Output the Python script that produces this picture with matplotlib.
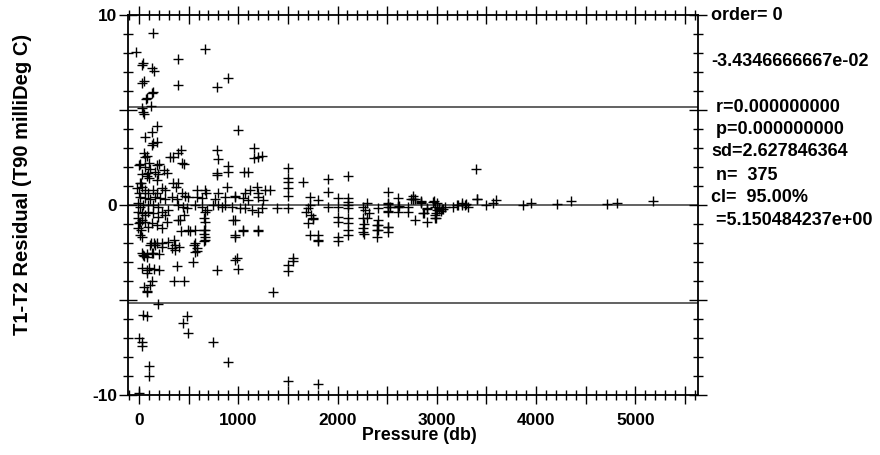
import matplotlib
matplotlib.use("Agg")
import matplotlib.pyplot as plt
from matplotlib.ticker import MultipleLocator, FuncFormatter

plt.rcParams['font.family'] = ['Liberation Sans', 'DejaVu Sans']
plt.rcParams['font.weight'] = 'bold'

# ---- data: pressure (db) and residual (T90 milliDeg C) ----
pressure_high = [-30, 27, 43, 128, 151, 144, 396, 665, 27, 50,
                 396, 789, 900, 128, 144, 70, 84, 117, 27, 43,
                 53, 1000, 128, 178, 60, 144, 178, 128]
residual_high = [8.07, 7.37, 7.46, 7.19, 7.05, 9.03, 7.68, 8.19, 6.40, 6.53,
                 6.32, 6.23, 6.67, 5.88, 5.96, 5.56, 5.65, 5.21, 5.09, 4.91,
                 4.77, 3.95, 3.86, 4.16, 3.56, 3.25, 3.33, 3.16]

pressure_mid = [50, 60, 77, 316, 389, 423, 438, 342, 782, 795,
                789, 789, 900, 900, 1154, 1204, 1154, 1235, 1054, 1100,
                1503, 1503, 1906, 2107, 3393, 0, 60, 178, 248, 190,
                27, 90, 10, 100, 200, 280, 80, 110, 160, 453]
residual_mid = [2.75, 2.54, 2.58, 2.54, 2.72, 2.89, 2.19, 2.54, 2.89, 2.40,
                1.67, 1.58, 2.05, 1.75, 2.98, 2.54, 2.46, 2.60, 1.75, 1.72,
                1.93, 1.40, 1.35, 1.53, 1.89, 2.10, 2.00, 2.10, 1.84, 1.65,
                1.65, 1.70, 2.15, 2.20, 2.15, 1.70, 1.55, 1.90, 1.75, 2.16]

pressure_low = [10, 27, -20, -3, 60, 94, 144, 178, 228, 262,
                344, 395, 378, 665, 680, 795, 883, 966, 1067, 1117,
                1185, 1200, 1268, 1318, 430, 463, 581, 1503, 1503, 1654,
                1906, 2510, 2762, 100, 17, 184, 1720, 2107, 2762, 3400]
residual_low = [1.14, 0.96, 0.88, 0.62, 0.79, 0.62, 0.77, 0.62, 0.88, 0.79,
                1.14, 1.14, 0.96, 0.79, 0.62, 0.65, 0.96, 0.47, 0.65, 0.79,
                0.96, 0.62, 0.79, 0.79, 0.62, 0.47, 0.79, 1.23, 0.88, 1.23,
                0.70, 0.70, 0.47, 1.40, 1.14, 1.32, 0.44, 0.35, 0.30, 0.30]

pressure_zero = [10, 60, 110, 160, 210, 260, 330, 380, 490, 580,
                 640, 765, 865, 965, 1045, 1095, 1200, 1250, 1500,
                 -7, 10, 43, 94, 144, 194, 295, 396, 446, 480,
                 564, 631, 681, 748, 799, 832, 866, 933, 1017, 1067,
                 1134, 1200, 1235, 1386, 1503,
                 1720, 1700, 1680, 1800, 1906, 2000, 2000, 2107, 2107, 2107,
                 2260, 2280, 2300, 2320, 2410, 2510, 2530, 2510, 2608, 2709,
                 2709, 2740, 2780, 2840, 2840, 2900, 2960, 2980, 3000, 3020,
                 3040, 3050, 3160, 3210, 3250, 3280,
                 2510, 2510, 2510, 2621, 2610, 2610, 2610, 2762, 2840, 2860,
                 2900, 2970, 3000, 2990, 3020, 3060, 3080, 3200, 3250, 3290,
                 3310, 3500, 3570, 3600, 3870, 3944, 4206, 4347, 4710, 4810,
                 5173, 3400]
residual_zero = [0.42, 0.35, 0.30, 0.42, 0.35, 0.30, 0.42, 0.30, 0.42, 0.42,
                 0.35, 0.30, 0.42, 0.42, 0.35, 0.26, 0.42, 0.26, 0.47,
                 0.09, -0.09, 0.00, 0.00, 0.00, -0.09, -0.26, 0.00, -0.09, -0.18,
                 0.00, -0.09, -0.26, 0.00, 0.00, -0.09, 0.00, -0.09, -0.18, -0.18,
                 -0.26, -0.35, -0.18, -0.18, -0.18,
                 0.00, -0.18, -0.35, 0.26, -0.09, 0.37, -0.09, 0.18, 0.00, -0.18,
                 -0.10, -0.26, 0.13, -0.44, -0.18, 0.09, -0.09, -0.35, -0.09, -0.09,
                 -0.35, 0.30, 0.30, 0.18, 0.09, -0.18, 0.18, -0.09, -0.26, -0.20,
                 -0.30, -0.20, -0.09, 0.00, 0.09, 0.00,
                 0.07, -0.10, -0.33, -0.05, -0.10, -0.35, 0.35, 0.30, 0.20, -0.40,
                 -0.20, 0.20, 0.10, -0.40, -0.15, -0.20, -0.10, 0.00, 0.02, 0.07,
                 -0.10, 0.00, 0.10, 0.25, 0.02, 0.10, 0.05, 0.22, 0.05, 0.10,
                 0.20, 0.30]

pressure_neg = [-7, 27, 60, 94, 144, 194, 228, 262, -7, 27,
                10, 60, 94, 128, 178, 228, 278, -7, 10, 413,
                665, 950, 497, 564, 665, 665, 665, 966, 1050, 1200,
                110, 160, 228, 295, 330, 360, 550, 580, 565, 43,
                77, 144, 983, 1550,
                1730, 1750, 1700, 1800, 2000, 2000, 2107, 2107, 2260, 2260,
                2260, 2410, 2410, 2410, 2510, 2870, 2900, 2980, 2980, 2510,
                2990, 2780]
residual_neg = [-0.35, -0.44, -0.53, -0.35, -0.44, -0.61, -0.35, -0.53, -0.70, -0.79,
                -0.88, -0.88, -1.14, -0.96, -1.05, -1.23, -0.88, -1.23, -1.58, -0.79,
                -0.88, -0.79, -1.32, -1.32, -1.32, -1.67, -1.84, -1.67, -1.32, -1.32,
                -2.10, -2.10, -2.19, -1.93, -2.28, -2.10, -2.10, -2.28, -2.46, -2.63,
                -2.72, -2.54, -2.80, -2.80,
                -0.53, -0.70, -0.96, -1.58, -0.62, -1.67, -0.70, -1.32, -0.70, -1.23,
                -1.40, -0.79, -1.05, -1.32, -1.14, -0.44, -0.88, -0.53, -0.70, -1.18,
                -0.70, -0.80]

pressure_far = [0, 20, 35, 117, 150, 180, 230, 349, 365, 400,
                27, 50, 77, 128, 200, 27, 77, 100, 150, 200,
                80, 130, 115, 50, 77, 77, 195, 386, 350, 450,
                547, 428, 517, 389, 449, 564, 584, 658, 658, 658,
                658, 670, 789, 966, 966, 966, 1000, 1050, 1200, 1346,
                1503, 1503, 1547, 1720, 1800, 1800, 1750, 2000, 2000, 2110,
                2110, 2262, 2262, 2300, 2400, 2400, 2400, 2510, 43, 77,
                486, 446, 496, 0, 27, 27, 749, 900, 104, 104,
                1503, 1805, 3]
residual_far = [-0.95, -1.30, -1.70, -2.00, -2.00, -2.00, -2.00, -1.84, -2.37, -2.20,
                -2.50, -2.70, -2.60, -2.50, -2.60, -3.30, -3.40, -3.30, -3.35, -3.40,
                -3.60, -4.00, -4.20, -4.30, -4.50, -4.60, -5.23, -3.21, -4.00, -4.00,
                -3.00, -1.35, -1.35, -0.80, -0.50, -2.00, -2.40, -1.30, -1.50, -1.90,
                -0.70, -0.35, -3.42, -2.90, -1.60, -0.80, -3.39, -1.37, -1.37, -4.60,
                -3.16, -3.47, -2.93, -1.60, -1.85, -1.90, -0.75, -0.87, -1.90, -1.60,
                -0.96, -1.00, -1.55, -0.70, -1.05, -1.30, -1.66, -1.40, -5.80, -5.84,
                -5.84, -6.20, -6.75, -7.00, -7.20, -7.42, -7.19, -8.28, -8.46, -9.00,
                -9.26, -9.44, -9.90]

mean_line = 0.0
cl_limit = 5.150484237
stats_lines = ["order= 0", "-3.4346666667e-02", " r=0.000000000", " p=0.000000000",
               "sd=2.627846364", " n=  375", "cl=  95.00%", " =5.150484237e+00"]
stats_y = [15, 61, 107, 129, 152, 175, 197, 220]

pressure = (pressure_high + pressure_mid + pressure_low + pressure_zero
            + pressure_neg + pressure_far)
residual = (residual_high + residual_mid + residual_low + residual_zero
            + residual_neg + residual_far)

W, H = 880, 455
fig = plt.figure(figsize=(W / 100, H / 100), dpi=100)
ax = fig.add_axes([128 / W, 1 - 395 / H, (698 - 128) / W, (395 - 15) / H])

ax.plot(pressure, residual, linestyle='none', marker='+', color='black',
        markersize=7.5, markeredgewidth=1.0)

line_col = '#555555'
ax.axhline(mean_line, color=line_col, lw=1.3, zorder=1)
ax.axhline(cl_limit, color=line_col, lw=1.3, zorder=1)
ax.axhline(-cl_limit, color=line_col, lw=1.3, zorder=1)

ax.set_xlim(-110, 5630)
ax.set_ylim(-10, 10)

ax.xaxis.set_major_locator(MultipleLocator(500))
ax.xaxis.set_minor_locator(MultipleLocator(100))
ax.xaxis.set_major_formatter(FuncFormatter(lambda v, p: f"{int(round(v))}" if round(v) % 1000 == 0 else ""))
ax.yaxis.set_major_locator(MultipleLocator(5))
ax.yaxis.set_minor_locator(MultipleLocator(1))
ax.yaxis.set_major_formatter(FuncFormatter(lambda v, p: f"{int(round(v))}" if round(v) % 10 == 0 else ""))

ax.tick_params(which='both', direction='inout', top=True, right=True, width=1.0,
               labelsize=12.4, colors='black')
ax.tick_params(which='major', length=13)
ax.tick_params(which='minor', length=7)
ax.tick_params(axis='x', which='major', pad=6.5)
ax.tick_params(axis='y', which='major', pad=1.5)

for s in ax.spines.values():
    s.set_linewidth(1.3)

fig.text(419 / W, 1 - 440 / H, "Pressure (db)", fontsize=12.8, fontweight='bold',
         ha='center', va='baseline')
fig.text(23 / W, 1 - 184 / H, "T1-T2 Residual (T90 milliDeg C)", fontsize=14.5,
         fontweight='bold', rotation=90, ha='center', va='center')

for s, yy in zip(stats_lines, stats_y):
    fig.text(711 / W, 1 - yy / H, s, fontsize=13, fontweight='bold',
             ha='left', va='center')

fig.canvas.draw()
for lab in ax.get_xticklabels() + ax.get_yticklabels():
    lab.set_fontweight('bold')

fig.savefig("out.png", dpi=100)
